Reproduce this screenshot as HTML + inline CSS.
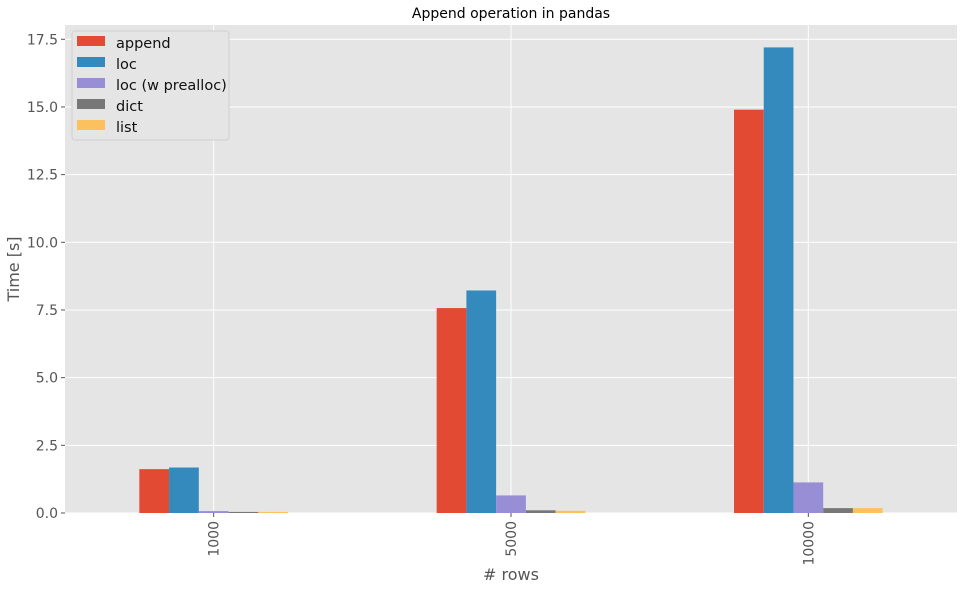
<!DOCTYPE html>
<html><head><meta charset="utf-8"><style>
body{margin:0;background:#fff;font-family:"Liberation Sans","DejaVu Sans",sans-serif;}
svg text{font-family:"DejaVu Sans","Liberation Sans",sans-serif;}
</style></head><body>
<svg id="chart" width="964" height="590" xmlns="http://www.w3.org/2000/svg">
<rect x="0" y="0" width="964" height="590" fill="#fff"/>
<text x="511" y="18" text-anchor="middle" font-size="14" fill="#000">Append operation in pandas</text>
<rect x="65" y="25" width="892" height="488" fill="#e5e5e5"/>
<g id="grid"></g><g id="bars"></g><g id="axes"></g><g id="legend"></g>
<text x="511" y="580" text-anchor="middle" font-size="16" fill="#555">#  rows</text>
<text transform="translate(19,269) rotate(-90)" text-anchor="middle" font-size="16" fill="#555">Time [s]</text>
</svg>
<script>
const categories=["1000","5000","10000"];
const seriesNames=["append","loc","loc (w prealloc)","dict","list"];
const appendVals=[1.62,7.57,14.9];
const locVals=[1.68,8.22,17.2];
const preallocVals=[0.07,0.65,1.13];
const dictVals=[0.04,0.1,0.18];
const listVals=[0.04,0.08,0.18];
const yTicks=[0,2.5,5,7.5,10,12.5,15,17.5];
const yTickLabels=["0.0","2.5","5.0","7.5","10.0","12.5","15.0","17.5"];
const colors=["#e24a33","#348abd","#988ed5","#777777","#fbc15e"];
const series=[appendVals,locVals,preallocVals,dictVals,listVals];
const NS="http://www.w3.org/2000/svg";
const L=65,R=957,T=25,B=513;
const step=(R-L)/categories.length;
const xc=i=>L+step*(i+0.5);
const y=v=>B-v*27.07;
function mk(tag,attrs,parent){const e=document.createElementNS(NS,tag);for(const k in attrs)e.setAttribute(k,attrs[k]);parent.appendChild(e);return e;}
const grid=document.getElementById('grid'),bars=document.getElementById('bars'),axes=document.getElementById('axes'),leg=document.getElementById('legend');
yTicks.forEach((t,i)=>{
 const g=mk('line',{x1:L,x2:R,y1:y(t),y2:y(t),stroke:'#fff','stroke-width':1},grid);
 
 
 mk('line',{x1:L-4,x2:L,y1:y(t),y2:y(t),stroke:'#555'},axes);
 const tx=mk('text',{x:L-7,y:y(t)+5,'text-anchor':'end','font-size':14,fill:'#555'},axes);
 tx.textContent=yTickLabels[i];
 
 
});
categories.forEach((c,i)=>{
 const g=mk('line',{x1:xc(i),x2:xc(i),y1:T,y2:B,stroke:'#fff'},grid);
 
 
 mk('line',{x1:xc(i),x2:xc(i),y1:B,y2:B+4,stroke:'#555'},axes);
 const tx=mk('text',{transform:`translate(${xc(i)+5},${B+8}) rotate(-90)`,'text-anchor':'end','font-size':14,fill:'#555'},axes);
 tx.textContent=c;
 
 
});
const bw=step*0.5/series.length;
series.forEach((s,si)=>{
 s.forEach((v,i)=>{
  const x0=xc(i)-step*0.25+si*bw;
  const r=mk('rect',{x:x0,y:y(v),width:bw,height:B-y(v),fill:colors[si]},bars);
  
  
 });
});
const box=mk('rect',{x:72,y:31,width:157,height:109,rx:3,fill:'#e5e5e5',stroke:'#d0d0d0'},leg);


seriesNames.forEach((n,i)=>{
 const yy=36+i*21;
 const sw=mk('rect',{x:77,y:yy,width:28,height:10,fill:colors[i]},leg);
 
 
 const t=mk('text',{x:116,y:yy+12,'font-size':14.5,fill:'#111'},leg);
 t.textContent=n;
 
 
});
</script>
</body></html>
